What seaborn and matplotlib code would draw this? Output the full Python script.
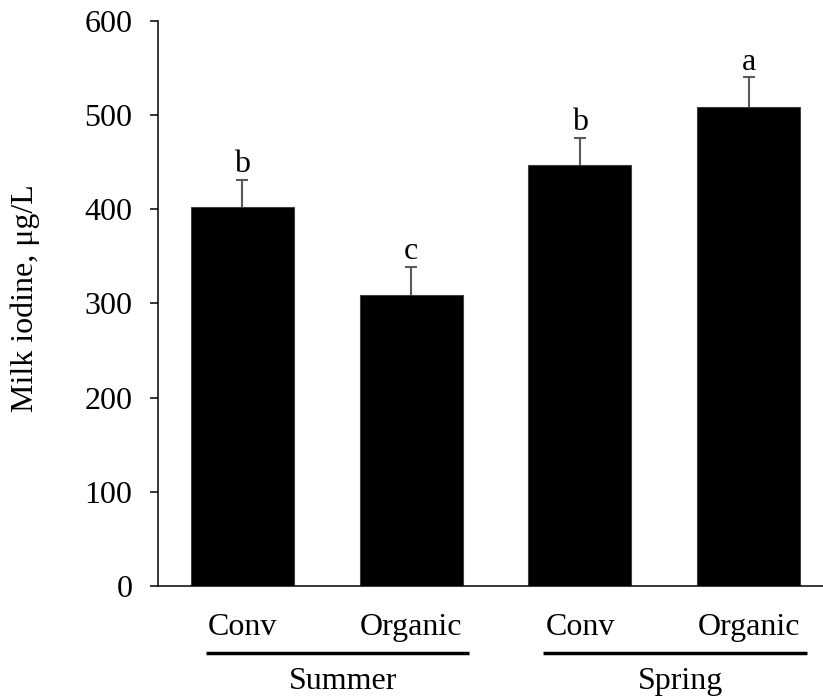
import matplotlib
matplotlib.use("Agg")
import matplotlib.pyplot as plt
import matplotlib.transforms as mtransforms
import seaborn as sns
import pandas as pd

# data
seasons = ["Summer", "Summer", "Spring", "Spring"]
systems = ["Conv", "Organic", "Conv", "Organic"]
iodine = [402, 309, 447, 509]
se = [29, 30, 29, 31]
letters = ["b", "c", "b", "a"]
season_order = ["Summer", "Spring"]

df = pd.DataFrame({
    "group": [f"{s} {t}" for s, t in zip(seasons, systems)],
    "season": seasons,
    "system": systems,
    "iodine": iodine,
})

sns.set_theme(style="white")
plt.rcParams["font.family"] = ["Liberation Serif", "DejaVu Serif"]
plt.rcParams["text.color"] = "black"
plt.rcParams["axes.labelcolor"] = "black"
plt.rcParams["ytick.color"] = "black"
plt.rcParams["xtick.color"] = "black"
FS = 23

fig = plt.figure(figsize=(8.23, 7.0), dpi=100)
ax = fig.add_axes([0.192, 0.163, 0.808, 0.807])

sns.barplot(data=df, x="group", y="iodine", order=list(df["group"]),
            color="black", width=0.61, errorbar=None, saturation=1,
            edgecolor="#404040", linewidth=0.8, ax=ax)

# upward-only standard error bars
xpos = list(range(len(df)))
_, caps, _ = ax.errorbar(xpos, iodine, yerr=[[0] * len(se), se], fmt="none",
                         ecolor="#595959", elinewidth=1.5, capsize=4.3,
                         capthick=1.5, zorder=3)
caps[0].set_visible(False)  # no cap on the bar top

for x, v, e, lab in zip(xpos, iodine, se, letters):
    ax.annotate(lab, (x, v + e), xytext=(0, 5.5), textcoords="offset points",
                ha="center", va="baseline", fontsize=FS, color="black")

ax.set_ylim(0, 600)
ax.set_yticks(range(0, 601, 100))
ax.set_xlim(-0.5, 3.44)
ax.tick_params(axis="y", direction="out", length=6, width=1.1,
               pad=12.5, labelsize=FS, left=True, color="black",
               labelcolor="black")
ax.set_xticks([])
ax.set_xlabel("")
ax.set_ylabel("Milk iodine, μg/L", fontsize=FS, color="black")
ax.yaxis.set_label_coords(-0.177, 0.51)

for side in ["top", "right"]:
    ax.spines[side].set_visible(False)
for side in ["left", "bottom"]:
    ax.spines[side].set_color("black")
    ax.spines[side].set_linewidth(1.1)

# two-level category labels below the axis
trans = mtransforms.blended_transform_factory(ax.transData, ax.transAxes)
for x, lab in zip(xpos, systems):
    ax.text(x, -0.074, lab, transform=trans, ha="center", va="center",
            fontsize=FS, color="black", clip_on=False)

for s in season_order:
    idx = [i for i, v in enumerate(seasons) if v == s]
    x0, x1 = idx[0] - 0.217, idx[-1] + 0.344
    ax.plot([x0, x1], [-0.1186, -0.1186], transform=trans, color="black",
            lw=2.5, clip_on=False, solid_capstyle="butt")
    ax.text((x0 + x1) / 2 + 0.03, -0.17, s, transform=trans, ha="center",
            va="center", fontsize=FS, color="black", clip_on=False)

fig.savefig("out.png", dpi=100)
